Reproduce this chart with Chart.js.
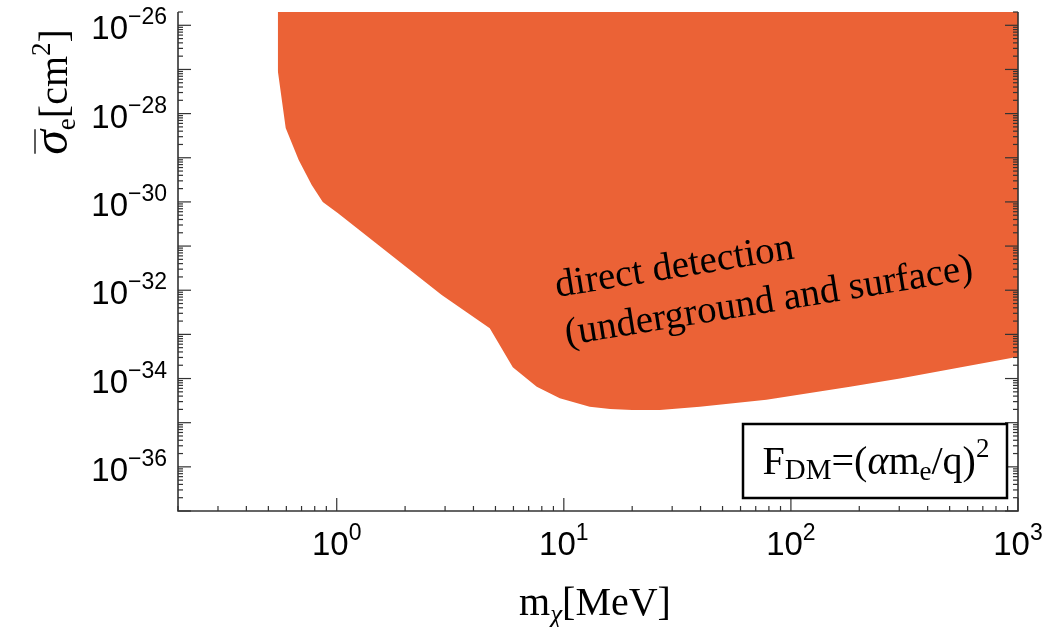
<!DOCTYPE html>
<html>
<head>
<meta charset="utf-8">
<script src="https://cdn.jsdelivr.net/npm/chart.js@4.4.1/dist/chart.umd.min.js"></script>
<style>
  html, body { margin: 0; padding: 0; background: #fff; }
  #wrap { width: 1051px; height: 627px; }
</style>
</head>
<body>
<div id="wrap"><canvas id="dmChart" width="1051" height="627"></canvas></div>
<script>
// boundary of the excluded region
const massMeV = [0.55, 0.55, 0.596, 0.68, 0.776, 0.868, 1.01, 2.9, 4.72, 5.96, 7.6, 9.6, 13, 16, 20, 26.5, 39.7, 78, 182, 302, 1000];
const sigmaE = [2e-26, 9.5e-28, 4.7e-29, 8.9e-30, 2.4e-30, 1e-30, 5.6e-31, 7.8e-33, 1.38e-33, 1.8e-34, 6.5e-35, 3.6e-35, 2.3e-35, 2.05e-35, 1.95e-35, 1.95e-35, 2.3e-35, 3.3e-35, 6.5e-35, 1.0e-34, 3.1e-34];

// tick labels (powers of ten)
const xTickExponents = [0, 1, 2, 3];
const yTickExponents = [-36, -34, -32, -30, -28, -26];

const fillColor = 'rgb(235, 98, 54)';
const axisColor = '#333';
const serif = '"Liberation Serif", "Times New Roman", serif';
const sans = '"Liberation Sans", Arial, sans-serif';

// draw a run of text pieces with different fonts / baseline shifts
function richText(ctx, x, y, parts, align) {
    let total = 0;
    parts.forEach(p => { ctx.font = p.font; p.w = ctx.measureText(p.text).width; total += p.w + (p.gap || 0); });
    let cx = x;
    if (align === 'center') cx = x - total / 2;
    if (align === 'right') cx = x - total;
    ctx.textAlign = 'left';
    ctx.textBaseline = 'alphabetic';
    parts.forEach(p => {
        ctx.font = p.font;
        ctx.fillText(p.text, cx, y + (p.dy || 0));
        if (p.overline) {
            ctx.save();
            ctx.lineWidth = 1.6;
            ctx.beginPath();
            ctx.moveTo(cx + 1, y + p.overline);
            ctx.lineTo(cx + p.w + 1, y + p.overline);
            ctx.stroke();
            ctx.restore();
        }
        cx += p.w + (p.gap || 0);
    });
    return total;
}

function powLabel(exp) {
    return exp < 0 ? '\u2212' + Math.abs(exp) : String(exp);
}

const framePlugin = {
    id: 'mmaFrame',
    afterDatasetsDraw(chart) {
        const { ctx, chartArea: a, scales: { x, y } } = chart;
        ctx.save();
        ctx.strokeStyle = axisColor;
        ctx.fillStyle = '#000';

        function seg(x1, y1, x2, y2) {
            ctx.beginPath();
            ctx.moveTo(x1, y1);
            ctx.lineTo(x2, y2);
            ctx.stroke();
        }

        // x ticks (inward, bottom only)
        ctx.lineWidth = 1.2;
        for (let e = -1; e <= 3; e++) {
            for (let m = 1; m <= 9; m++) {
                const v = m * Math.pow(10, e);
                if (v < x.min * 0.999 || v > x.max * 1.001) continue;
                const px = x.getPixelForValue(v);
                seg(px, a.bottom, px, a.bottom - (m === 1 ? 13 : 5));
            }
        }
        // y ticks (inward, left and right)
        for (let e = -38; e <= -25; e++) {
            for (let m = 1; m <= 9; m++) {
                const v = m * Math.pow(10, e);
                if (v < y.min * 0.999 || v > y.max * 1.001) continue;
                const py = y.getPixelForValue(v);
                const len = m === 1 ? 13 : 5;
                seg(a.left, py, a.left + len, py);
                seg(a.right, py, a.right - len, py);
            }
        }

        // frame: left, bottom, right
        ctx.lineWidth = 1.6;
        ctx.beginPath();
        ctx.moveTo(a.left, a.top);
        ctx.lineTo(a.left, a.bottom);
        ctx.lineTo(a.right, a.bottom);
        ctx.lineTo(a.right, a.top);
        ctx.stroke();

        // tick labels
        yTickExponents.forEach(e => {
            const py = y.getPixelForValue(Math.pow(10, e));
            richText(ctx, a.left - 11, py + 14, [
                { text: '10', font: '33px ' + sans },
                { text: powLabel(e), font: '23px ' + sans, dy: -15 }
            ], 'right');
        });
        xTickExponents.forEach(e => {
            const px = x.getPixelForValue(Math.pow(10, e));
            richText(ctx, px, a.bottom + 44, [
                { text: '10', font: '33px ' + sans },
                { text: powLabel(e), font: '23px ' + sans, dy: -15 }
            ], 'center');
        });

        // axis titles
        richText(ctx, (a.left + a.right) / 2 - 3, 615, [
            { text: 'm', font: '40px ' + serif },
            { text: '\u03c7', font: 'italic 27px ' + serif, dy: 8 },
            { text: '[MeV]', font: '40px ' + serif }
        ], 'center');

        ctx.save();
        ctx.translate(67, 92);
        ctx.rotate(-Math.PI / 2);
        richText(ctx, 0, 0, [
            { text: '\u03c3', font: 'italic 50px ' + serif, overline: -32 },
            { text: 'e', font: '27px ' + serif, dy: 8 },
            { text: '[cm', font: '40px ' + serif },
            { text: '2', font: '27px ' + serif, dy: -17 },
            { text: ']', font: '40px ' + serif }
        ], 'center');
        ctx.restore();

        // region label
        ctx.save();
        ctx.translate(557, 297);
        ctx.rotate(-9.2 * Math.PI / 180);
        ctx.font = '39px ' + serif;
        ctx.textAlign = 'left';
        ctx.fillText('direct detection', 0, 0);
        ctx.fillText('(underground and surface)', 2, 49);
        ctx.restore();

        // form factor box
        const bx = a.right - 275, by = a.bottom - 87, bw = 264, bh = 74;
        ctx.fillStyle = '#fff';
        ctx.fillRect(bx, by, bw, bh);
        ctx.strokeStyle = '#000';
        ctx.lineWidth = 2.5;
        ctx.strokeRect(bx, by, bw, bh);
        ctx.fillStyle = '#000';
        richText(ctx, bx + bw / 2 + 1, by + 50, [
            { text: 'F', font: '40px ' + serif },
            { text: 'DM', font: '29px ' + serif, dy: 5 },
            { text: '=(', font: '40px ' + serif },
            { text: '\u03b1', font: 'italic 40px ' + serif },
            { text: 'm', font: '40px ' + serif },
            { text: 'e', font: '27px ' + serif, dy: 6 },
            { text: '/q)', font: '40px ' + serif },
            { text: '2', font: '27px ' + serif, dy: -17 }
        ], 'center');

        ctx.restore();
    }
};

new Chart(document.getElementById('dmChart').getContext('2d'), {
    type: 'line',
    data: {
        datasets: [{
            label: 'direct detection',
            data: massMeV.map((m, i) => ({ x: m, y: sigmaE[i] })),
            fill: 'end',
            backgroundColor: fillColor,
            borderWidth: 0,
            borderColor: fillColor,
            pointRadius: 0,
            tension: 0
        }]
    },
    options: {
        responsive: false,
        animation: false,
        layout: { padding: { left: 178, right: 33, top: 12, bottom: 116 } },
        plugins: { legend: { display: false }, tooltip: { enabled: false } },
        scales: {
            x: { type: 'logarithmic', min: 0.2, max: 1000, display: false },
            y: { type: 'logarithmic', min: 1e-37, max: 2e-26, display: false }
        }
    },
    plugins: [framePlugin]
});
</script>
</body>
</html>
